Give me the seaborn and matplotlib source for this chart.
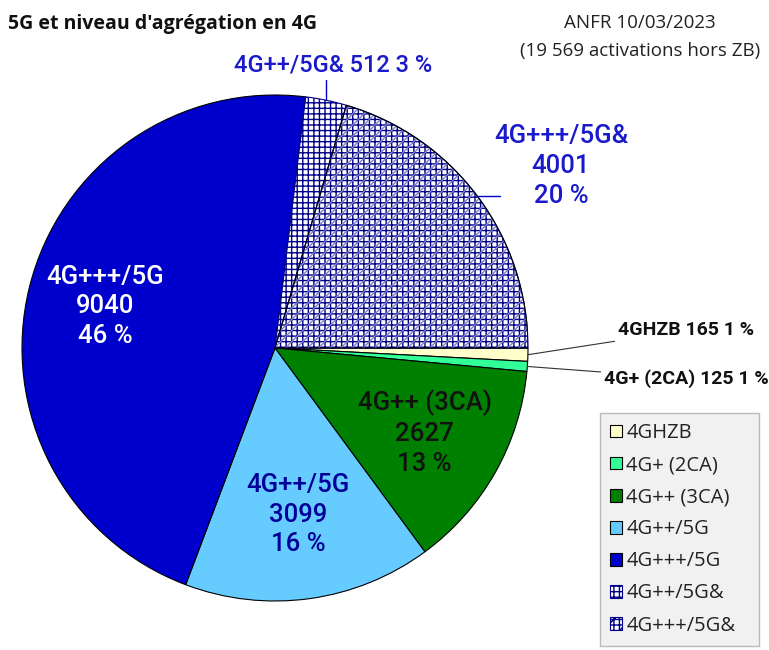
import numpy as np
import seaborn as sns
import matplotlib.pyplot as plt
from matplotlib.patches import Wedge, Patch

# values
categories = ["4GHZB", "4G+ (2CA)", "4G++ (3CA)", "4G++/5G", "4G+++/5G",
              "4G++/5G&", "4G+++/5G&"]
activations = [165, 125, 2627, 3099, 9040, 512, 4001]

colors = ["#ffffcc", "#33ff99", "#008000", "#66ccff", "#0000cc",
          "#ffffff", "#ffffff"]
hatches = [None, None, None, None, None, "+++", "+++"]
text_colors = ["#111111", "#111111", "#111111", "#000099", "#ffffff",
               "#1a1acc", "#1a1acc"]
inner_r = {2: 0.68, 3: 0.665, 4: 0.69}

sns.set_theme(style="white")
plt.rcParams["font.family"] = ["Roboto", "DejaVu Sans"]
plt.rcParams["hatch.linewidth"] = 1.0

total = sum(activations)
pct = [round(v * 100 / total) for v in activations]

fig = plt.figure(figsize=(7.69, 6.5), dpi=100)
ax = fig.add_axes([22 / 769, 49 / 650, 506 / 769, 506 / 650])

wedges, _ = ax.pie(activations, colors=colors, startangle=0,
                   counterclock=False, radius=1,
                   wedgeprops=dict(linewidth=0.8, edgecolor="black"))
for w, h in zip(wedges, hatches):
    if h:
        w.set_hatch(h)
        w.set_edgecolor("#000088")

# extra light diagonal hatch on the last slice
last = wedges[-1]
ax.add_patch(Wedge((0, 0), 1, last.theta1, last.theta2, facecolor="none",
                   edgecolor="#8080c8", hatch="///", linewidth=0))
ax.add_patch(Wedge((0, 0), 1, last.theta1, last.theta2, facecolor="none",
                   edgecolor="#000000", linewidth=0.8))
ax.set_xlim(-1, 1)
ax.set_ylim(-1, 1)
ax.set_aspect("auto")
ax.axis("off")

def mid(w):
    return np.deg2rad((w.theta1 + w.theta2) / 2)

# labels inside the big slices
big = dict(fontsize=18.5, ha="center", va="center", linespacing=1.3,
           fontweight="medium")
for i, r in inner_r.items():
    a = mid(wedges[i])
    ax.text(r * np.cos(a), r * np.sin(a),
            f"{categories[i]}\n{activations[i]}\n{pct[i]} %",
            color=text_colors[i], **big)

# 4G+++/5G& outside, on the right
a = mid(wedges[6])
ax.plot([np.cos(a), np.cos(a) + 0.09], [np.sin(a), np.sin(a)],
        color="#0000cc", lw=1)
ax.text(1.13, 0.72, f"{categories[6]}\n{activations[6]}\n{pct[6]} %",
        color=text_colors[6], clip_on=False, **big)

# 4G++/5G& above
a = mid(wedges[5])
ax.plot([np.cos(a), np.cos(a)], [np.sin(a), np.sin(a) + 0.08],
        color="#0000cc", lw=1, clip_on=False)
ax.text(0.23, 1.12, f"{categories[5]} {activations[5]} {pct[5]} %",
        color=text_colors[5], fontsize=17, ha="center", va="center",
        fontweight="medium", clip_on=False)

# the two thin slices
small = dict(fontsize=14, ha="left", va="center", fontweight="bold",
             color="#111111")
a = mid(wedges[0])
ax.annotate(f"{categories[0]} {activations[0]} {pct[0]} %",
            xy=(np.cos(a), np.sin(a)), xytext=(1.355, 0.07),
            arrowprops=dict(arrowstyle="-", color="#333333", lw=0.8,
                            shrinkA=0, shrinkB=0), annotation_clip=False,
            **small)
a = mid(wedges[1])
ax.annotate(f"{categories[1]} {activations[1]} {pct[1]} %",
            xy=(np.cos(a), np.sin(a)), xytext=(1.30, -0.12),
            arrowprops=dict(arrowstyle="-", color="#333333", lw=0.8,
                            shrinkA=0, shrinkB=0), annotation_clip=False,
            **small)

fig.text(8 / 769, 1 - 24 / 650, "5G et niveau d'agrégation en 4G",
         family=["Open Sans", "DejaVu Sans"], fontweight="bold",
         fontsize=14, ha="left", va="center", color="#111111")
fig.text(640 / 769, 1 - 23 / 650, "ANFR 10/03/2023",
         family=["Open Sans", "DejaVu Sans"], fontsize=13.5,
         ha="center", va="center", color="#222222")
fig.text(640 / 769, 1 - 51 / 650, "(19 569 activations hors ZB)",
         family=["Open Sans", "DejaVu Sans"], fontsize=13.5,
         ha="center", va="center", color="#222222")

handles = []
for i, c in enumerate(categories):
    if i == 6:
        handles.append(Patch(facecolor="white", edgecolor="#000088",
                             hatch="+++//", linewidth=0.8))
    elif hatches[i]:
        handles.append(Patch(facecolor="white", edgecolor="#000088",
                             hatch="+++", linewidth=0.8))
    else:
        handles.append(Patch(facecolor=colors[i], edgecolor="black",
                             linewidth=0.8))

leg = fig.legend(handles, categories, loc="upper left",
                 bbox_to_anchor=(600 / 769, 1 - 413 / 650, 159 / 769, 0),
                 mode="expand", frameon=True, fancybox=False,
                 prop=dict(family=["Open Sans", "DejaVu Sans"], size=14.5),
                 handlelength=0.6, handleheight=0.6, handletextpad=0.2,
                 labelspacing=0.6, borderpad=0.5, borderaxespad=0)
leg.get_frame().set_facecolor("#eeeeee")
leg.get_frame().set_edgecolor("#aaaaaa")
leg.get_frame().set_linewidth(1)
for t in leg.get_texts():
    t.set_color("#222222")

fig.savefig("out.png", dpi=100)
